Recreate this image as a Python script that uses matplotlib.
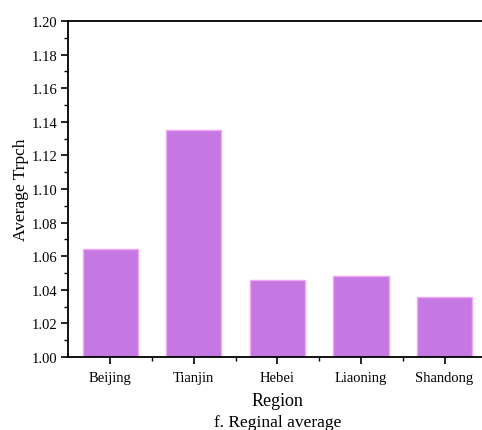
import matplotlib.pyplot as plt
from matplotlib.ticker import MultipleLocator, FixedLocator

plt.rcParams['font.family'] = ['Liberation Serif', 'DejaVu Serif']

regions = ['Beijing', 'Tianjin', 'Hebei', 'Liaoning', 'Shandong']
avg_trpch = [1.064, 1.135, 1.046, 1.048, 1.036]

fig = plt.figure(figsize=(4.82, 4.31), dpi=100)
ax = fig.add_axes([0.142, 0.1694, 0.867, 0.7796])

x = list(range(1, len(regions) + 1))
ax.bar(x, [v - 1.0 for v in avg_trpch], bottom=1.0, width=0.66,
       color='#C577E2', edgecolor='#F2A6F4', linewidth=1.0, zorder=2)

ax.set_xlim(0.5, len(regions) + 0.5)
ax.set_ylim(1.00, 1.20)
ax.set_xticks(x)
ax.set_xticklabels(regions)
ax.xaxis.set_minor_locator(FixedLocator([i + 0.5 for i in x[:-1]]))
ax.yaxis.set_major_locator(MultipleLocator(0.02))
ax.yaxis.set_minor_locator(MultipleLocator(0.01))
ax.yaxis.set_major_formatter(plt.FormatStrFormatter('%.2f'))

ax.tick_params(which='major', direction='out', length=5, width=1.2, labelsize=10.5)
ax.tick_params(which='minor', direction='out', length=3, width=1.0)
ax.tick_params(axis='x', pad=5)
ax.tick_params(axis='y', pad=3)

for side in ['left', 'top', 'bottom']:
    ax.spines[side].set_linewidth(1.3)
ax.spines['right'].set_visible(False)

ax.set_ylabel('Average Trpch', fontsize=12.5, labelpad=2)
# axis title and caption sit below the tick labels
fig.text(0.5755, 1 - 402 / 431, 'Region', ha='center', va='center', fontsize=13)
fig.text(0.5755, 1 - 423 / 431, 'f. Reginal average', ha='center', va='center', fontsize=12.5)

fig.savefig('out.png', dpi=100)
